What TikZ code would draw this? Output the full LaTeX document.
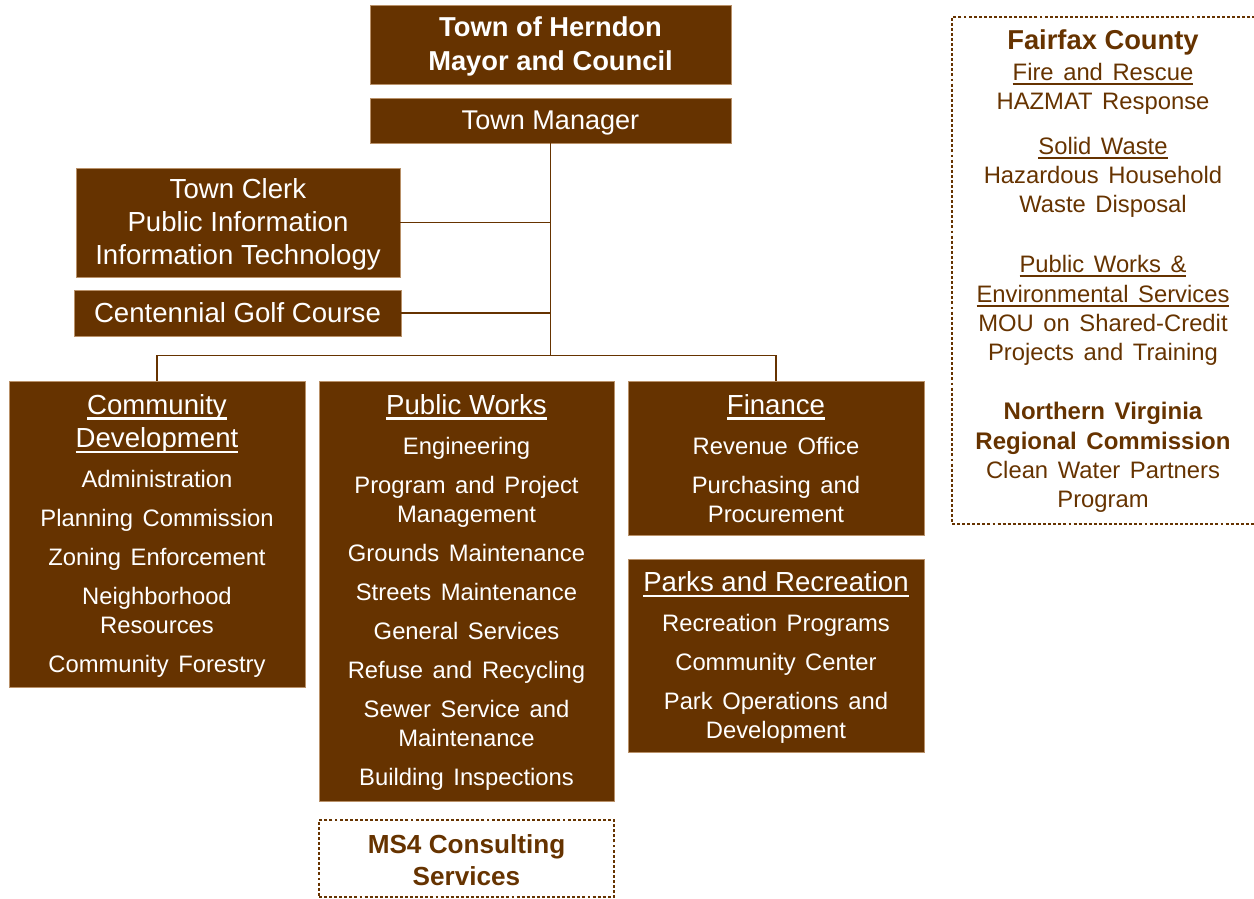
\documentclass[tikz,border=0pt]{standalone}
\usepackage{fontspec}
\setmainfont{Liberation Sans}
\newfontfamily\widefont{Liberation Sans}[WordSpace=1.45]
\usetikzlibrary{fit}
\definecolor{brn}{HTML}{663300}
\definecolor{boxedge}{RGB}{185,145,105}
% underline at a fixed depth below the baseline
\newcommand\ulx[1]{\leavevmode\setbox0\hbox{#1}\rlap{\rule[-0.19em]{\wd0}{0.075em}}\box0}
\begin{document}
\begin{tikzpicture}[x=0.75pt,y=-0.75pt,
  box/.style={draw=boxedge, line width=0.5pt, fill=brn, inner sep=0pt},
  dbox/.style={draw=brn, line width=0.9pt, dash pattern=on 2.2pt off 1.6pt, inner sep=0pt},
  conn/.style={draw=brn, line width=1.3pt},
  ttl/.style={anchor=base, inner sep=0pt, text=white, font=\fontsize{20.7}{24}\selectfont},
  btl/.style={anchor=base, inner sep=0pt, text=white, font=\bfseries\fontsize{20.5}{24}\selectfont},
  itm/.style={anchor=base, inner sep=0pt, text=white, font=\widefont\fontsize{17.85}{21}\selectfont},
  ext/.style={anchor=base, inner sep=0pt, text=brn, font=\widefont\fontsize{17.85}{21}\selectfont},
  extb/.style={anchor=base, inner sep=0pt, text=brn, font=\widefont\bfseries\fontsize{18}{21}\selectfont},
]
\clip (0,0) rectangle (1254,899);
\useasboundingbox (0,0) rectangle (1254,899);

% ---- boxes ----
\node[box, fit={(370,5) (731,84)}] (mc) {};
\node[box, fit={(370,98) (731,143)}] (tm) {};
\node[box, fit={(76,168) (400,277)}] (clerk) {};
\node[box, fit={(74,290) (401,336)}] (golf) {};
\node[box, fit={(9,381) (305,687)}] (cd) {};
\node[box, fit={(319,381) (614,801)}] (pw) {};
\node[box, fit={(628,381) (924,535)}] (fin) {};
\node[box, fit={(628,559) (924,752)}] (pr) {};
\node[dbox, fit={(319,820) (614,897)}] (ms4) {};
\node[dbox, fit={(952,17) (1258,524)}] (ffx) {};

% ---- connectors ----
\coordinate (bus) at (550,355.5);
\draw[conn] (tm.south) -- (tm.south |- bus);
\draw[conn] (cd.north) -- (cd.north |- bus) -- (fin.north |- bus) -- (fin.north);
\draw[conn] (clerk.east) -- (clerk.east -| tm.south);
\draw[conn] (golf.east) -- (golf.east -| tm.south);

% ---- top ----
\node[btl] (mc-1) at (550.5,36.5) {Town of Herndon};
\node[btl] (mc-2) at (550.5,70.5) {Mayor and Council};
\node[ttl, font=\fontsize{20.3}{24}\selectfont] (tm-1) at (550.5,130) {Town Manager};

\node[ttl] (clerk-1) at (238,198.3) {Town Clerk};
\node[ttl] (clerk-2) at (238,231.5) {Public Information};
\node[ttl] (clerk-3) at (238,264) {Information Technology};
\node[ttl] (golf-1) at (237.5,322.5) {Centennial Golf Course};

% ---- Community Development ----
\node[ttl] (cd-t1) at (157,414.3) {\ulx{Community}};
\node[ttl] (cd-t2) at (157,447.7) {\ulx{Development}};
\node[itm] (cd-1) at (157,487.2) {Administration};
\node[itm] (cd-2) at (157,526.5) {Planning Commission};
\node[itm] (cd-3) at (157,565.5) {Zoning Enforcement};
\node[itm] (cd-4) at (157,604.5) {Neighborhood};
\node[itm] (cd-5) at (157,633.5) {Resources};
\node[itm] (cd-6) at (157,672.5) {Community Forestry};

% ---- Public Works ----
\node[ttl] (pw-t) at (466.5,414.3) {\ulx{Public Works}};
\node[itm] (pw-1) at (466.5,454.5) {Engineering};
\node[itm] (pw-2) at (466.5,493.5) {Program and Project};
\node[itm] (pw-3) at (466.5,522.5) {Management};
\node[itm] (pw-4) at (466.5,561.5) {Grounds Maintenance};
\node[itm] (pw-5) at (466.5,600.5) {Streets Maintenance};
\node[itm] (pw-6) at (466.5,639.5) {General Services};
\node[itm] (pw-7) at (466.5,678.5) {Refuse and Recycling};
\node[itm] (pw-8) at (466.5,717.5) {Sewer Service and};
\node[itm] (pw-9) at (466.5,746.5) {Maintenance};
\node[itm] (pw-10) at (466.5,785.5) {Building Inspections};

% ---- Finance ----
\node[ttl] (fin-t) at (776,414.3) {\ulx{Finance}};
\node[itm] (fin-1) at (776,454.5) {Revenue Office};
\node[itm] (fin-2) at (776,493.5) {Purchasing and};
\node[itm] (fin-3) at (776,522.5) {Procurement};

% ---- Parks and Recreation ----
\node[ttl] (pr-t) at (776,591.7) {\ulx{Parks and Recreation}};
\node[itm] (pr-1) at (776,631.8) {Recreation Programs};
\node[itm] (pr-2) at (776,670.3) {Community Center};
\node[itm] (pr-3) at (776,709.5) {Park Operations and};
\node[itm] (pr-4) at (776,738.5) {Development};

% ---- MS4 ----
\node[anchor=base, inner sep=0pt, text=brn, font=\bfseries\fontsize{19.6}{23}\selectfont] (ms4-1) at (466.5,853.5) {MS4 Consulting};
\node[anchor=base, inner sep=0pt, text=brn, font=\bfseries\fontsize{19.6}{23}\selectfont] (ms4-2) at (466.5,885.5) {Services};

% ---- outside partners ----
\node[extb, font=\bfseries\fontsize{20.5}{24}\selectfont] (ffx-0) at (1103,50) {Fairfax County};
\node[ext] (ffx-1) at (1103,80.7) {\ulx{Fire and Rescue}};
\node[ext] (ffx-2) at (1103,109.4) {HAZMAT Response};
\node[ext] (ffx-3) at (1103,154.5) {\ulx{Solid Waste}};
\node[ext] (ffx-4) at (1103,183.4) {Hazardous Household};
\node[ext] (ffx-5) at (1103,212.5) {Waste Disposal};
\node[ext] (ffx-6) at (1103,272.5) {\ulx{Public Works \&}};
\node[ext] (ffx-7) at (1103,302) {\ulx{Environmental Services}};
\node[ext] (ffx-8) at (1103,331) {MOU on Shared-Credit};
\node[ext] (ffx-9) at (1103,360.5) {Projects and Training};
\node[extb] (ffx-10) at (1103,419.8) {Northern Virginia};
\node[extb] (ffx-11) at (1103,449) {Regional Commission};
\node[ext] (ffx-12) at (1103,478.5) {Clean Water Partners};
\node[ext] (ffx-13) at (1103,507.7) {Program};
\end{tikzpicture}
\end{document}
